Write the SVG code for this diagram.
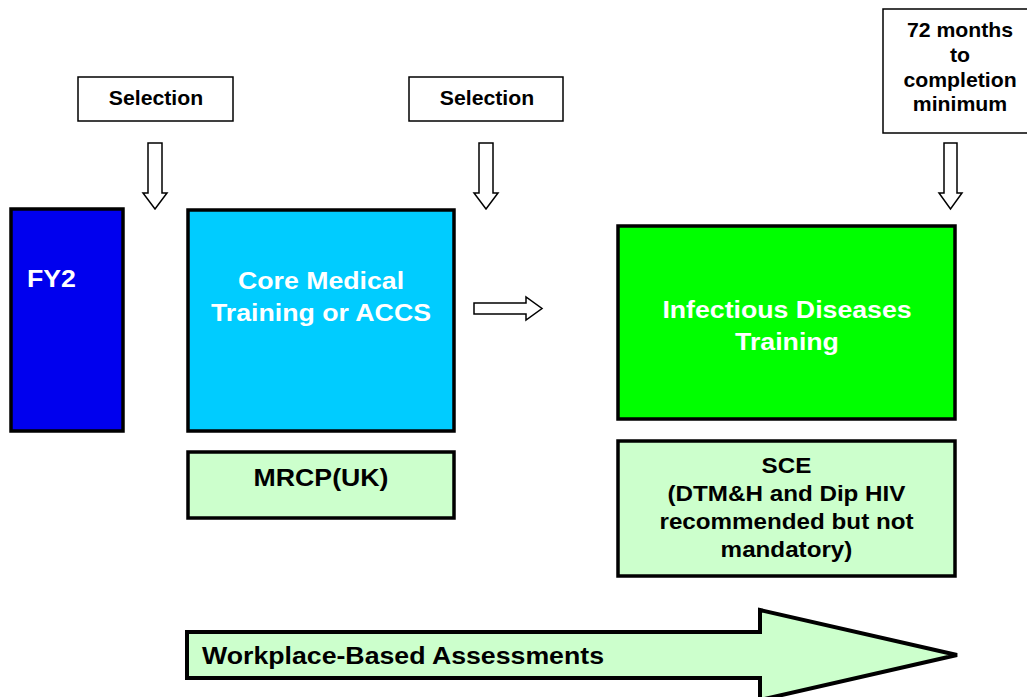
<svg xmlns="http://www.w3.org/2000/svg" width="1027" height="697" viewBox="0 0 1027 697">
<style>
text{font-family:"Liberation Sans",Arial,sans-serif;font-weight:bold;text-anchor:middle}
.lbl{fill:#fff;stroke:#000;stroke-width:1.5}
.box{stroke:#000;stroke-width:3.5}
.arr{fill:#fff;stroke:#000;stroke-width:1.5}
.w{fill:#fff;font-size:24.5px}
.k{fill:#000}
</style>
<rect width="1027" height="697" fill="#fff"/>
<g id="selection1"><rect class="lbl" x="78" y="77" width="155" height="44"/><text class="k" transform="translate(156 105) scale(1.09 1)" font-size="19.5">Selection</text></g>
<g id="selection2"><rect class="lbl" x="409" y="77" width="154" height="44"/><text class="k" transform="translate(487 105) scale(1.09 1)" font-size="19.5">Selection</text></g>
<g id="months"><rect class="lbl" x="883" y="9" width="150" height="124"/><text class="k" font-size="19.5" transform="translate(960 0) scale(1.09 1)"><tspan x="0" y="37">72 months</tspan><tspan x="0" y="62">to</tspan><tspan x="0" y="87">completion</tspan><tspan x="0" y="111">minimum</tspan></text></g>
<g id="fy2"><rect class="box" x="11" y="209" width="112" height="222" fill="#0000EE"/><text class="w" transform="translate(27 287) scale(1.09 1)" font-size="22.5" style="text-anchor:start">FY2</text></g>
<g id="cmt"><rect class="box" x="188" y="210" width="266" height="221" fill="#00CCFF"/><text class="w" transform="translate(321 0) scale(1.09 1)"><tspan x="0" y="289">Core Medical</tspan><tspan x="0" y="321">Training or ACCS</tspan></text></g>
<g id="mrcp"><rect class="box" x="188" y="452" width="266" height="66" fill="#CCFFCC"/><text class="k" transform="translate(321 486) scale(1.09 1)" font-size="24.5">MRCP(UK)</text></g>
<g id="idt"><rect class="box" x="618" y="226" width="337" height="193" fill="#00FF00"/><text class="w" transform="translate(787 0) scale(1.09 1)"><tspan x="0" y="318">Infectious Diseases</tspan><tspan x="0" y="350">Training</tspan></text></g>
<g id="sce"><rect class="box" x="618" y="441" width="337" height="135" fill="#CCFFCC"/><text class="k" font-size="22.2" transform="translate(786.5 0) scale(1.09 1)"><tspan x="0" y="473">SCE</tspan><tspan x="0" y="501">(DTM&amp;H and Dip HIV</tspan><tspan x="0" y="529">recommended but not</tspan><tspan x="0" y="557">mandatory)</tspan></text></g>
<g id="wba"><path d="M187 632 H760 V610 L957 655 L760 700 V678 H187 Z" fill="#CCFFCC" stroke="#000" stroke-width="4" stroke-linejoin="miter"/><text class="k" transform="translate(202 664) scale(1.09 1)" font-size="24.5" style="text-anchor:start">Workplace-Based Assessments</text></g>
<g id="connectors">
<path class="arr" d="M148 143 H162 V193 H167 L155 209 L143 193 H148 Z"/>
<path class="arr" d="M479 143 H493 V193 H498 L486 209 L474 193 H479 Z"/>
<path class="arr" d="M944 143 H957 V193 H962 L950.5 209 L939 193 H944 Z"/>
<path class="arr" d="M474 303 H526 V297 L542 308.5 L526 320 V314 H474 Z"/>
</g>
</svg>
